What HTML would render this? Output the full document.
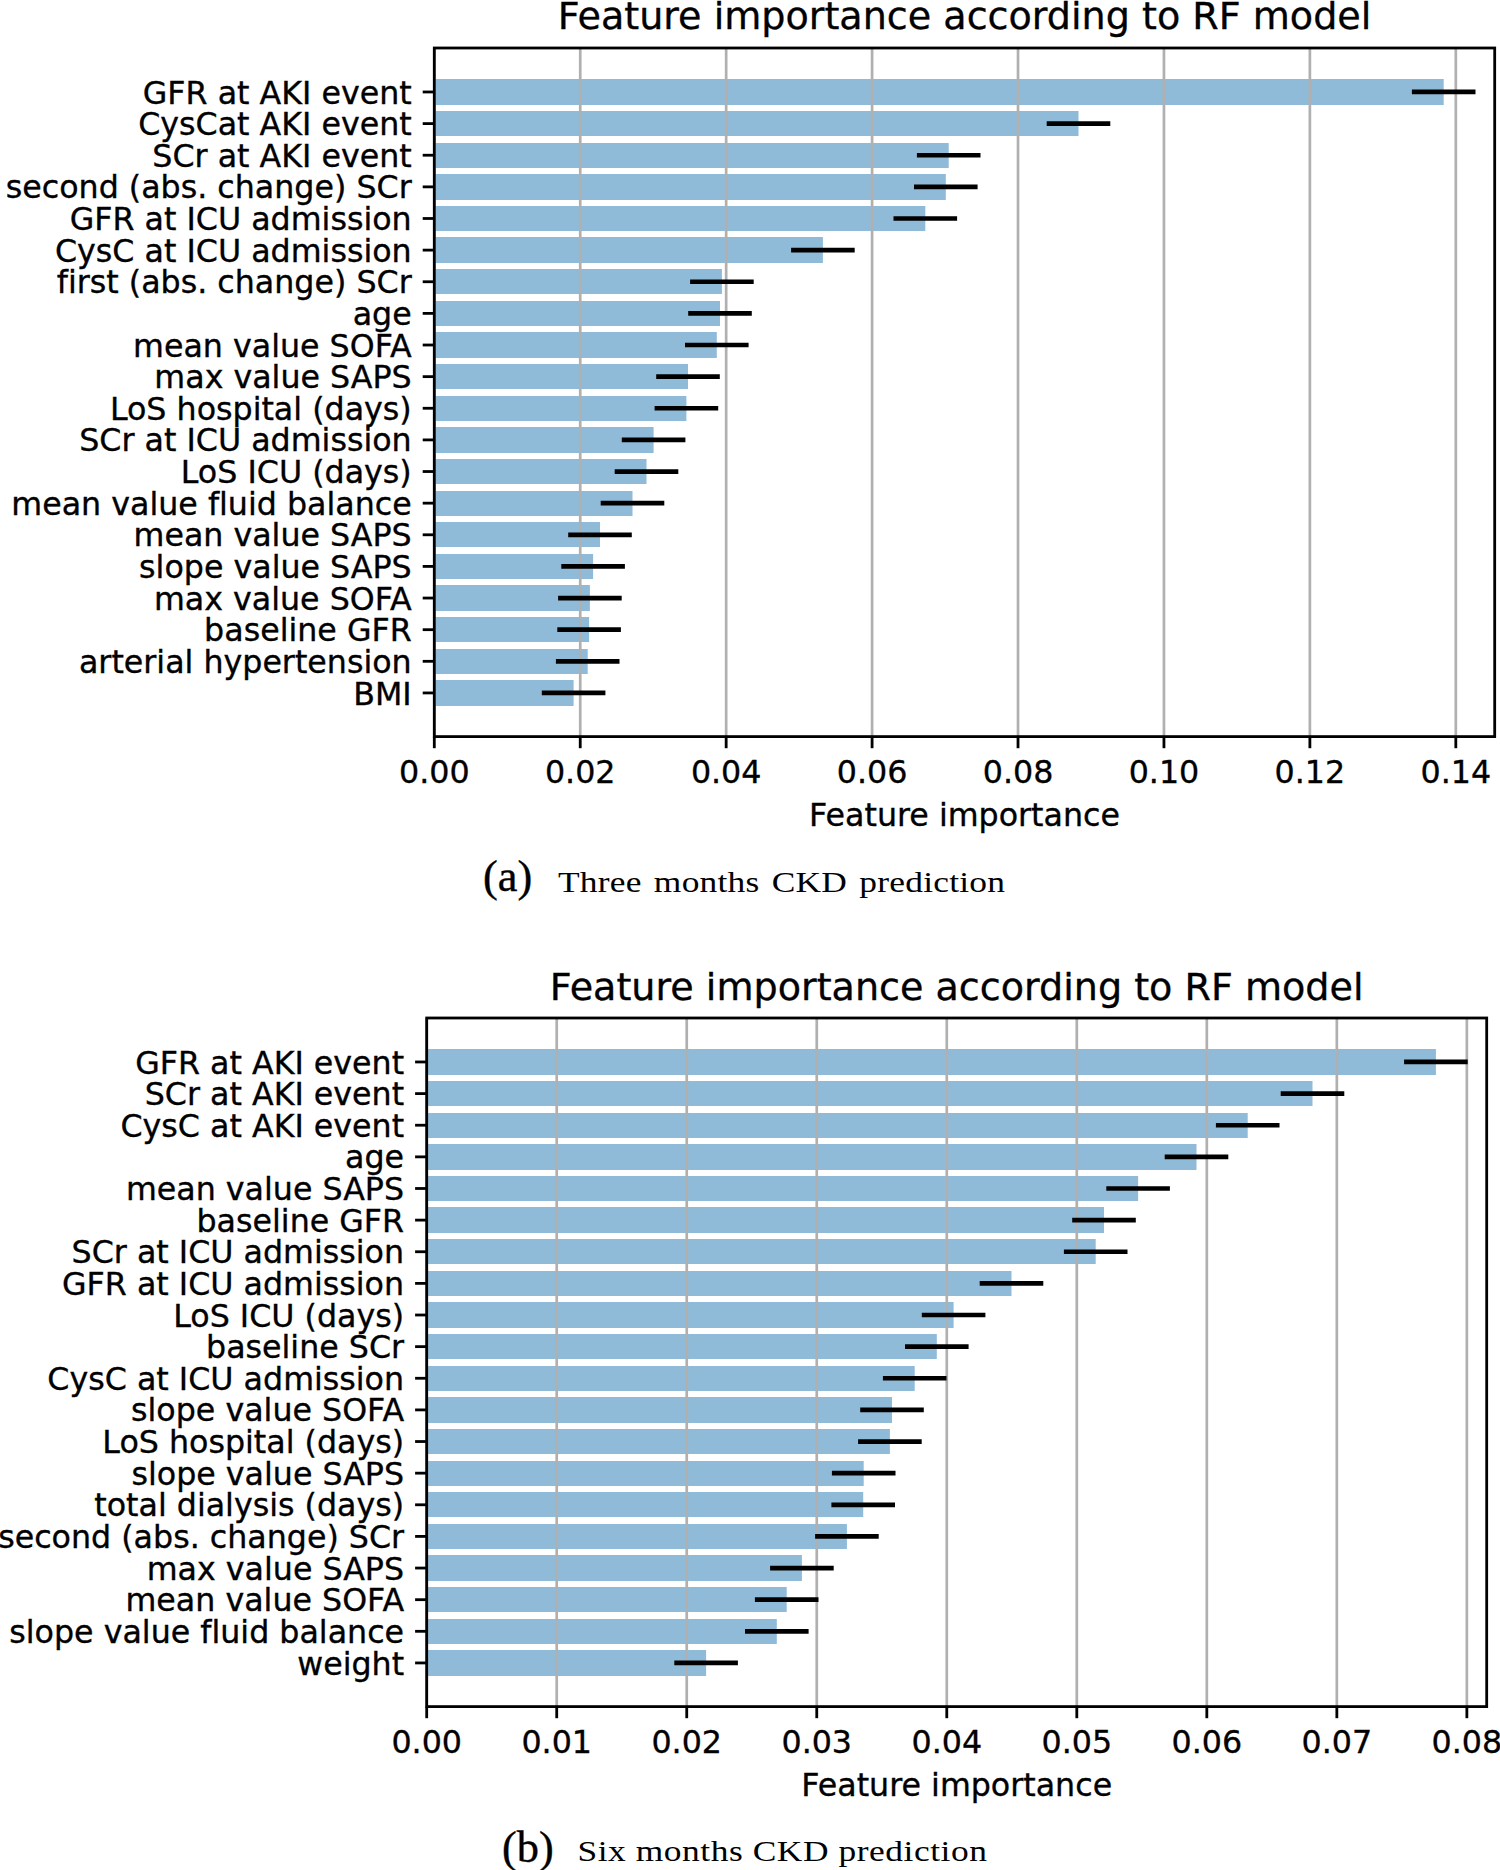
<!DOCTYPE html>
<html lang="en"><head><meta charset="utf-8"><title>Feature importance according to RF model</title>
<style>html,body{margin:0;padding:0;background:#fff}svg{display:block}text{font-family:"DejaVu Sans","Liberation Sans",sans-serif;fill:#000;stroke:#000;stroke-width:0.35px;font-variant-ligatures:none;font-feature-settings:"liga" 0,"clig" 0}.t{font-size:38.10px}.l{font-size:31.70px}.cap{font-family:"Liberation Serif","DejaVu Serif",serif;stroke:none}</style></head><body>
<svg width="1500" height="1870" viewBox="0 0 1500 1870">
<rect width="1500" height="1870" fill="#fff"/>
<g>
<rect x="434.3" y="79" width="1009.4" height="26" fill="#8fbbd9"/>
<rect x="434.3" y="111" width="644.2" height="25" fill="#8fbbd9"/>
<rect x="434.3" y="143" width="514.4" height="25" fill="#8fbbd9"/>
<rect x="434.3" y="174" width="511.5" height="26" fill="#8fbbd9"/>
<rect x="434.3" y="206" width="491.0" height="25" fill="#8fbbd9"/>
<rect x="434.3" y="237" width="388.6" height="26" fill="#8fbbd9"/>
<rect x="434.3" y="269" width="287.6" height="25" fill="#8fbbd9"/>
<rect x="434.3" y="301" width="285.7" height="25" fill="#8fbbd9"/>
<rect x="434.3" y="332" width="282.5" height="26" fill="#8fbbd9"/>
<rect x="434.3" y="364" width="253.7" height="25" fill="#8fbbd9"/>
<rect x="434.3" y="396" width="252.1" height="25" fill="#8fbbd9"/>
<rect x="434.3" y="427" width="219.3" height="26" fill="#8fbbd9"/>
<rect x="434.3" y="459" width="212.2" height="25" fill="#8fbbd9"/>
<rect x="434.3" y="491" width="198.2" height="25" fill="#8fbbd9"/>
<rect x="434.3" y="522" width="165.7" height="25" fill="#8fbbd9"/>
<rect x="434.3" y="554" width="158.8" height="25" fill="#8fbbd9"/>
<rect x="434.3" y="585" width="155.6" height="26" fill="#8fbbd9"/>
<rect x="434.3" y="617" width="154.8" height="25" fill="#8fbbd9"/>
<rect x="434.3" y="649" width="153.4" height="25" fill="#8fbbd9"/>
<rect x="434.3" y="680" width="139.3" height="26" fill="#8fbbd9"/>
<line x1="434.30" x2="434.30" y1="48.0" y2="736.6" stroke="#b0b0b0" stroke-width="2.7"/>
<line x1="580.23" x2="580.23" y1="48.0" y2="736.6" stroke="#b0b0b0" stroke-width="2.7"/>
<line x1="726.16" x2="726.16" y1="48.0" y2="736.6" stroke="#b0b0b0" stroke-width="2.7"/>
<line x1="872.09" x2="872.09" y1="48.0" y2="736.6" stroke="#b0b0b0" stroke-width="2.7"/>
<line x1="1018.02" x2="1018.02" y1="48.0" y2="736.6" stroke="#b0b0b0" stroke-width="2.7"/>
<line x1="1163.95" x2="1163.95" y1="48.0" y2="736.6" stroke="#b0b0b0" stroke-width="2.7"/>
<line x1="1309.88" x2="1309.88" y1="48.0" y2="736.6" stroke="#b0b0b0" stroke-width="2.7"/>
<line x1="1455.81" x2="1455.81" y1="48.0" y2="736.6" stroke="#b0b0b0" stroke-width="2.7"/>
<line x1="1411.9" x2="1475.5" y1="91.97" y2="91.97" stroke="#000" stroke-width="4.7"/>
<line x1="1046.7" x2="1110.3" y1="123.60" y2="123.60" stroke="#000" stroke-width="4.7"/>
<line x1="916.9" x2="980.5" y1="155.23" y2="155.23" stroke="#000" stroke-width="4.7"/>
<line x1="914.0" x2="977.6" y1="186.86" y2="186.86" stroke="#000" stroke-width="4.7"/>
<line x1="893.5" x2="957.1" y1="218.49" y2="218.49" stroke="#000" stroke-width="4.7"/>
<line x1="791.1" x2="854.7" y1="250.12" y2="250.12" stroke="#000" stroke-width="4.7"/>
<line x1="690.1" x2="753.7" y1="281.75" y2="281.75" stroke="#000" stroke-width="4.7"/>
<line x1="688.2" x2="751.8" y1="313.38" y2="313.38" stroke="#000" stroke-width="4.7"/>
<line x1="685.0" x2="748.6" y1="345.01" y2="345.01" stroke="#000" stroke-width="4.7"/>
<line x1="656.2" x2="719.8" y1="376.64" y2="376.64" stroke="#000" stroke-width="4.7"/>
<line x1="654.6" x2="718.2" y1="408.27" y2="408.27" stroke="#000" stroke-width="4.7"/>
<line x1="621.8" x2="685.4" y1="439.90" y2="439.90" stroke="#000" stroke-width="4.7"/>
<line x1="614.7" x2="678.3" y1="471.53" y2="471.53" stroke="#000" stroke-width="4.7"/>
<line x1="600.7" x2="664.3" y1="503.16" y2="503.16" stroke="#000" stroke-width="4.7"/>
<line x1="568.2" x2="631.8" y1="534.79" y2="534.79" stroke="#000" stroke-width="4.7"/>
<line x1="561.3" x2="624.9" y1="566.42" y2="566.42" stroke="#000" stroke-width="4.7"/>
<line x1="558.1" x2="621.7" y1="598.05" y2="598.05" stroke="#000" stroke-width="4.7"/>
<line x1="557.3" x2="620.9" y1="629.68" y2="629.68" stroke="#000" stroke-width="4.7"/>
<line x1="555.9" x2="619.5" y1="661.31" y2="661.31" stroke="#000" stroke-width="4.7"/>
<line x1="541.8" x2="605.4" y1="692.94" y2="692.94" stroke="#000" stroke-width="4.7"/>
<line x1="434.30" x2="434.30" y1="736.6" y2="748.2" stroke="#000" stroke-width="2.8"/>
<line x1="580.23" x2="580.23" y1="736.6" y2="748.2" stroke="#000" stroke-width="2.8"/>
<line x1="726.16" x2="726.16" y1="736.6" y2="748.2" stroke="#000" stroke-width="2.8"/>
<line x1="872.09" x2="872.09" y1="736.6" y2="748.2" stroke="#000" stroke-width="2.8"/>
<line x1="1018.02" x2="1018.02" y1="736.6" y2="748.2" stroke="#000" stroke-width="2.8"/>
<line x1="1163.95" x2="1163.95" y1="736.6" y2="748.2" stroke="#000" stroke-width="2.8"/>
<line x1="1309.88" x2="1309.88" y1="736.6" y2="748.2" stroke="#000" stroke-width="2.8"/>
<line x1="1455.81" x2="1455.81" y1="736.6" y2="748.2" stroke="#000" stroke-width="2.8"/>
<line x1="422.7" x2="434.3" y1="91.97" y2="91.97" stroke="#000" stroke-width="2.8"/>
<line x1="422.7" x2="434.3" y1="123.60" y2="123.60" stroke="#000" stroke-width="2.8"/>
<line x1="422.7" x2="434.3" y1="155.23" y2="155.23" stroke="#000" stroke-width="2.8"/>
<line x1="422.7" x2="434.3" y1="186.86" y2="186.86" stroke="#000" stroke-width="2.8"/>
<line x1="422.7" x2="434.3" y1="218.49" y2="218.49" stroke="#000" stroke-width="2.8"/>
<line x1="422.7" x2="434.3" y1="250.12" y2="250.12" stroke="#000" stroke-width="2.8"/>
<line x1="422.7" x2="434.3" y1="281.75" y2="281.75" stroke="#000" stroke-width="2.8"/>
<line x1="422.7" x2="434.3" y1="313.38" y2="313.38" stroke="#000" stroke-width="2.8"/>
<line x1="422.7" x2="434.3" y1="345.01" y2="345.01" stroke="#000" stroke-width="2.8"/>
<line x1="422.7" x2="434.3" y1="376.64" y2="376.64" stroke="#000" stroke-width="2.8"/>
<line x1="422.7" x2="434.3" y1="408.27" y2="408.27" stroke="#000" stroke-width="2.8"/>
<line x1="422.7" x2="434.3" y1="439.90" y2="439.90" stroke="#000" stroke-width="2.8"/>
<line x1="422.7" x2="434.3" y1="471.53" y2="471.53" stroke="#000" stroke-width="2.8"/>
<line x1="422.7" x2="434.3" y1="503.16" y2="503.16" stroke="#000" stroke-width="2.8"/>
<line x1="422.7" x2="434.3" y1="534.79" y2="534.79" stroke="#000" stroke-width="2.8"/>
<line x1="422.7" x2="434.3" y1="566.42" y2="566.42" stroke="#000" stroke-width="2.8"/>
<line x1="422.7" x2="434.3" y1="598.05" y2="598.05" stroke="#000" stroke-width="2.8"/>
<line x1="422.7" x2="434.3" y1="629.68" y2="629.68" stroke="#000" stroke-width="2.8"/>
<line x1="422.7" x2="434.3" y1="661.31" y2="661.31" stroke="#000" stroke-width="2.8"/>
<line x1="422.7" x2="434.3" y1="692.94" y2="692.94" stroke="#000" stroke-width="2.8"/>
<rect x="434.3" y="48.0" width="1060.4" height="688.6" fill="none" stroke="#000" stroke-width="2.8"/>
<text class="t" x="964.5" y="28.8" text-anchor="middle">Feature importance according to RF model</text>
<text class="l" x="411.7" y="104.00" text-anchor="end">GFR at AKI event</text>
<text class="l" x="411.7" y="135.00" text-anchor="end">CysCat AKI event</text>
<text class="l" x="411.7" y="167.00" text-anchor="end">SCr at AKI event</text>
<text class="l" x="411.7" y="198.00" text-anchor="end">second (abs. change) SCr</text>
<text class="l" x="411.7" y="230.00" text-anchor="end">GFR at ICU admission</text>
<text class="l" x="411.7" y="262.00" text-anchor="end">CysC at ICU admission</text>
<text class="l" x="411.7" y="293.00" text-anchor="end">first (abs. change) SCr</text>
<text class="l" x="411.7" y="325.00" text-anchor="end">age</text>
<text class="l" x="411.7" y="357.00" text-anchor="end">mean value SOFA</text>
<text class="l" x="411.7" y="388.00" text-anchor="end">max value SAPS</text>
<text class="l" x="411.7" y="420.00" text-anchor="end">LoS hospital (days)</text>
<text class="l" x="411.7" y="451.00" text-anchor="end">SCr at ICU admission</text>
<text class="l" x="411.7" y="483.00" text-anchor="end">LoS ICU (days)</text>
<text class="l" x="411.7" y="515.00" text-anchor="end">mean value fluid balance</text>
<text class="l" x="411.7" y="546.00" text-anchor="end">mean value SAPS</text>
<text class="l" x="411.7" y="578.00" text-anchor="end">slope value SAPS</text>
<text class="l" x="411.7" y="610.00" text-anchor="end">max value SOFA</text>
<text class="l" x="411.7" y="641.00" text-anchor="end">baseline GFR</text>
<text class="l" x="411.7" y="673.00" text-anchor="end">arterial hypertension</text>
<text class="l" x="411.7" y="705.00" text-anchor="end">BMI</text>
<text class="l" x="434.30" y="782.7" text-anchor="middle">0.00</text>
<text class="l" x="580.23" y="782.7" text-anchor="middle">0.02</text>
<text class="l" x="726.16" y="782.7" text-anchor="middle">0.04</text>
<text class="l" x="872.09" y="782.7" text-anchor="middle">0.06</text>
<text class="l" x="1018.02" y="782.7" text-anchor="middle">0.08</text>
<text class="l" x="1163.95" y="782.7" text-anchor="middle">0.10</text>
<text class="l" x="1309.88" y="782.7" text-anchor="middle">0.12</text>
<text class="l" x="1455.81" y="782.7" text-anchor="middle">0.14</text>
<text class="l" x="964.5" y="825.8" text-anchor="middle">Feature importance</text>
</g>
<g>
<rect x="426.7" y="1049" width="1009.2" height="26" fill="#8fbbd9"/>
<rect x="426.7" y="1081" width="885.8" height="25" fill="#8fbbd9"/>
<rect x="426.7" y="1113" width="821.0" height="25" fill="#8fbbd9"/>
<rect x="426.7" y="1144" width="769.8" height="26" fill="#8fbbd9"/>
<rect x="426.7" y="1176" width="711.4" height="25" fill="#8fbbd9"/>
<rect x="426.7" y="1207" width="677.3" height="26" fill="#8fbbd9"/>
<rect x="426.7" y="1239" width="669.0" height="25" fill="#8fbbd9"/>
<rect x="426.7" y="1271" width="584.8" height="25" fill="#8fbbd9"/>
<rect x="426.7" y="1302" width="526.9" height="26" fill="#8fbbd9"/>
<rect x="426.7" y="1334" width="510.1" height="25" fill="#8fbbd9"/>
<rect x="426.7" y="1366" width="488.0" height="25" fill="#8fbbd9"/>
<rect x="426.7" y="1397" width="465.3" height="26" fill="#8fbbd9"/>
<rect x="426.7" y="1429" width="463.2" height="25" fill="#8fbbd9"/>
<rect x="426.7" y="1461" width="437.0" height="25" fill="#8fbbd9"/>
<rect x="426.7" y="1492" width="436.5" height="25" fill="#8fbbd9"/>
<rect x="426.7" y="1524" width="420.2" height="25" fill="#8fbbd9"/>
<rect x="426.7" y="1555" width="375.2" height="26" fill="#8fbbd9"/>
<rect x="426.7" y="1587" width="360.0" height="25" fill="#8fbbd9"/>
<rect x="426.7" y="1619" width="350.1" height="25" fill="#8fbbd9"/>
<rect x="426.7" y="1650" width="279.4" height="26" fill="#8fbbd9"/>
<line x1="426.70" x2="426.70" y1="1018.0" y2="1706.6" stroke="#b0b0b0" stroke-width="2.7"/>
<line x1="556.72" x2="556.72" y1="1018.0" y2="1706.6" stroke="#b0b0b0" stroke-width="2.7"/>
<line x1="686.74" x2="686.74" y1="1018.0" y2="1706.6" stroke="#b0b0b0" stroke-width="2.7"/>
<line x1="816.76" x2="816.76" y1="1018.0" y2="1706.6" stroke="#b0b0b0" stroke-width="2.7"/>
<line x1="946.78" x2="946.78" y1="1018.0" y2="1706.6" stroke="#b0b0b0" stroke-width="2.7"/>
<line x1="1076.80" x2="1076.80" y1="1018.0" y2="1706.6" stroke="#b0b0b0" stroke-width="2.7"/>
<line x1="1206.82" x2="1206.82" y1="1018.0" y2="1706.6" stroke="#b0b0b0" stroke-width="2.7"/>
<line x1="1336.84" x2="1336.84" y1="1018.0" y2="1706.6" stroke="#b0b0b0" stroke-width="2.7"/>
<line x1="1466.86" x2="1466.86" y1="1018.0" y2="1706.6" stroke="#b0b0b0" stroke-width="2.7"/>
<line x1="1404.1" x2="1467.7" y1="1061.97" y2="1061.97" stroke="#000" stroke-width="4.7"/>
<line x1="1280.7" x2="1344.3" y1="1093.60" y2="1093.60" stroke="#000" stroke-width="4.7"/>
<line x1="1215.9" x2="1279.5" y1="1125.23" y2="1125.23" stroke="#000" stroke-width="4.7"/>
<line x1="1164.7" x2="1228.3" y1="1156.86" y2="1156.86" stroke="#000" stroke-width="4.7"/>
<line x1="1106.3" x2="1169.9" y1="1188.49" y2="1188.49" stroke="#000" stroke-width="4.7"/>
<line x1="1072.2" x2="1135.8" y1="1220.12" y2="1220.12" stroke="#000" stroke-width="4.7"/>
<line x1="1063.9" x2="1127.5" y1="1251.75" y2="1251.75" stroke="#000" stroke-width="4.7"/>
<line x1="979.7" x2="1043.3" y1="1283.38" y2="1283.38" stroke="#000" stroke-width="4.7"/>
<line x1="921.8" x2="985.4" y1="1315.01" y2="1315.01" stroke="#000" stroke-width="4.7"/>
<line x1="905.0" x2="968.6" y1="1346.64" y2="1346.64" stroke="#000" stroke-width="4.7"/>
<line x1="882.9" x2="946.5" y1="1378.27" y2="1378.27" stroke="#000" stroke-width="4.7"/>
<line x1="860.2" x2="923.8" y1="1409.90" y2="1409.90" stroke="#000" stroke-width="4.7"/>
<line x1="858.1" x2="921.7" y1="1441.53" y2="1441.53" stroke="#000" stroke-width="4.7"/>
<line x1="831.9" x2="895.5" y1="1473.16" y2="1473.16" stroke="#000" stroke-width="4.7"/>
<line x1="831.4" x2="895.0" y1="1504.79" y2="1504.79" stroke="#000" stroke-width="4.7"/>
<line x1="815.1" x2="878.7" y1="1536.42" y2="1536.42" stroke="#000" stroke-width="4.7"/>
<line x1="770.1" x2="833.7" y1="1568.05" y2="1568.05" stroke="#000" stroke-width="4.7"/>
<line x1="754.9" x2="818.5" y1="1599.68" y2="1599.68" stroke="#000" stroke-width="4.7"/>
<line x1="745.0" x2="808.6" y1="1631.31" y2="1631.31" stroke="#000" stroke-width="4.7"/>
<line x1="674.3" x2="737.9" y1="1662.94" y2="1662.94" stroke="#000" stroke-width="4.7"/>
<line x1="426.70" x2="426.70" y1="1706.6" y2="1718.2" stroke="#000" stroke-width="2.8"/>
<line x1="556.72" x2="556.72" y1="1706.6" y2="1718.2" stroke="#000" stroke-width="2.8"/>
<line x1="686.74" x2="686.74" y1="1706.6" y2="1718.2" stroke="#000" stroke-width="2.8"/>
<line x1="816.76" x2="816.76" y1="1706.6" y2="1718.2" stroke="#000" stroke-width="2.8"/>
<line x1="946.78" x2="946.78" y1="1706.6" y2="1718.2" stroke="#000" stroke-width="2.8"/>
<line x1="1076.80" x2="1076.80" y1="1706.6" y2="1718.2" stroke="#000" stroke-width="2.8"/>
<line x1="1206.82" x2="1206.82" y1="1706.6" y2="1718.2" stroke="#000" stroke-width="2.8"/>
<line x1="1336.84" x2="1336.84" y1="1706.6" y2="1718.2" stroke="#000" stroke-width="2.8"/>
<line x1="1466.86" x2="1466.86" y1="1706.6" y2="1718.2" stroke="#000" stroke-width="2.8"/>
<line x1="415.1" x2="426.7" y1="1061.97" y2="1061.97" stroke="#000" stroke-width="2.8"/>
<line x1="415.1" x2="426.7" y1="1093.60" y2="1093.60" stroke="#000" stroke-width="2.8"/>
<line x1="415.1" x2="426.7" y1="1125.23" y2="1125.23" stroke="#000" stroke-width="2.8"/>
<line x1="415.1" x2="426.7" y1="1156.86" y2="1156.86" stroke="#000" stroke-width="2.8"/>
<line x1="415.1" x2="426.7" y1="1188.49" y2="1188.49" stroke="#000" stroke-width="2.8"/>
<line x1="415.1" x2="426.7" y1="1220.12" y2="1220.12" stroke="#000" stroke-width="2.8"/>
<line x1="415.1" x2="426.7" y1="1251.75" y2="1251.75" stroke="#000" stroke-width="2.8"/>
<line x1="415.1" x2="426.7" y1="1283.38" y2="1283.38" stroke="#000" stroke-width="2.8"/>
<line x1="415.1" x2="426.7" y1="1315.01" y2="1315.01" stroke="#000" stroke-width="2.8"/>
<line x1="415.1" x2="426.7" y1="1346.64" y2="1346.64" stroke="#000" stroke-width="2.8"/>
<line x1="415.1" x2="426.7" y1="1378.27" y2="1378.27" stroke="#000" stroke-width="2.8"/>
<line x1="415.1" x2="426.7" y1="1409.90" y2="1409.90" stroke="#000" stroke-width="2.8"/>
<line x1="415.1" x2="426.7" y1="1441.53" y2="1441.53" stroke="#000" stroke-width="2.8"/>
<line x1="415.1" x2="426.7" y1="1473.16" y2="1473.16" stroke="#000" stroke-width="2.8"/>
<line x1="415.1" x2="426.7" y1="1504.79" y2="1504.79" stroke="#000" stroke-width="2.8"/>
<line x1="415.1" x2="426.7" y1="1536.42" y2="1536.42" stroke="#000" stroke-width="2.8"/>
<line x1="415.1" x2="426.7" y1="1568.05" y2="1568.05" stroke="#000" stroke-width="2.8"/>
<line x1="415.1" x2="426.7" y1="1599.68" y2="1599.68" stroke="#000" stroke-width="2.8"/>
<line x1="415.1" x2="426.7" y1="1631.31" y2="1631.31" stroke="#000" stroke-width="2.8"/>
<line x1="415.1" x2="426.7" y1="1662.94" y2="1662.94" stroke="#000" stroke-width="2.8"/>
<rect x="426.7" y="1018.0" width="1060.0" height="688.6" fill="none" stroke="#000" stroke-width="2.8"/>
<text class="t" x="956.7" y="999.5" text-anchor="middle">Feature importance according to RF model</text>
<text class="l" x="404.1" y="1074.00" text-anchor="end">GFR at AKI event</text>
<text class="l" x="404.1" y="1105.00" text-anchor="end">SCr at AKI event</text>
<text class="l" x="404.1" y="1137.00" text-anchor="end">CysC at AKI event</text>
<text class="l" x="404.1" y="1168.00" text-anchor="end">age</text>
<text class="l" x="404.1" y="1200.00" text-anchor="end">mean value SAPS</text>
<text class="l" x="404.1" y="1232.00" text-anchor="end">baseline GFR</text>
<text class="l" x="404.1" y="1263.00" text-anchor="end">SCr at ICU admission</text>
<text class="l" x="404.1" y="1295.00" text-anchor="end">GFR at ICU admission</text>
<text class="l" x="404.1" y="1327.00" text-anchor="end">LoS ICU (days)</text>
<text class="l" x="404.1" y="1358.00" text-anchor="end">baseline SCr</text>
<text class="l" x="404.1" y="1390.00" text-anchor="end">CysC at ICU admission</text>
<text class="l" x="404.1" y="1421.00" text-anchor="end">slope value SOFA</text>
<text class="l" x="404.1" y="1453.00" text-anchor="end">LoS hospital (days)</text>
<text class="l" x="404.1" y="1485.00" text-anchor="end">slope value SAPS</text>
<text class="l" x="404.1" y="1516.00" text-anchor="end">total dialysis (days)</text>
<text class="l" x="404.1" y="1548.00" text-anchor="end">second (abs. change) SCr</text>
<text class="l" x="404.1" y="1580.00" text-anchor="end">max value SAPS</text>
<text class="l" x="404.1" y="1611.00" text-anchor="end">mean value SOFA</text>
<text class="l" x="404.1" y="1643.00" text-anchor="end">slope value fluid balance</text>
<text class="l" x="404.1" y="1675.00" text-anchor="end">weight</text>
<text class="l" x="426.70" y="1752.7" text-anchor="middle">0.00</text>
<text class="l" x="556.72" y="1752.7" text-anchor="middle">0.01</text>
<text class="l" x="686.74" y="1752.7" text-anchor="middle">0.02</text>
<text class="l" x="816.76" y="1752.7" text-anchor="middle">0.03</text>
<text class="l" x="946.78" y="1752.7" text-anchor="middle">0.04</text>
<text class="l" x="1076.80" y="1752.7" text-anchor="middle">0.05</text>
<text class="l" x="1206.82" y="1752.7" text-anchor="middle">0.06</text>
<text class="l" x="1336.84" y="1752.7" text-anchor="middle">0.07</text>
<text class="l" x="1466.86" y="1752.7" text-anchor="middle">0.08</text>
<text class="l" x="956.7" y="1795.8" text-anchor="middle">Feature importance</text>
</g>
<text class="cap" x="483" y="891" font-size="44.3" style="stroke:#000;stroke-width:0.4px">(a)</text>
<text class="cap" transform="translate(558,892) scale(1.2,1)" font-size="29.5" word-spacing="2.5" textLength="372.5" lengthAdjust="spacing">Three months CKD prediction</text>
<text class="cap" x="502" y="1861.5" font-size="44.3" style="stroke:#000;stroke-width:0.4px">(b)</text>
<text class="cap" transform="translate(577.5,1861.3) scale(1.2,1)" font-size="29.5" word-spacing="0" textLength="341.2" lengthAdjust="spacing">Six months CKD prediction</text>
</svg></body></html>
